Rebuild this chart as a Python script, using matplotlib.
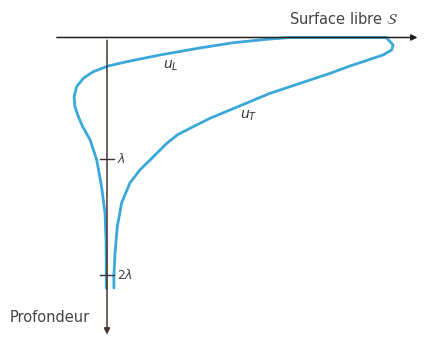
import numpy as np
import matplotlib.pyplot as plt

# profils des deplacements (u relatif, profondeur z en unites de lambda)
z_L = [0.0, 0.0, 0.015, 0.044, 0.088, 0.147, 0.203, 0.239, 0.287, 0.343, 0.413,
       0.497, 0.582, 0.666, 0.744, 0.861, 1.029, 1.254, 1.475, 1.702, 1.926, 2.105]
u_L = [0.976, 0.640, 0.559, 0.441, 0.325, 0.185, 0.070, 0.005, -0.048, -0.083, -0.106,
       -0.115, -0.112, -0.100, -0.086, -0.059, -0.036, -0.019, -0.007, -0.0035, -0.0025, -0.0025]

z_T = [0.0, 0.063, 0.105, 0.147, 0.203, 0.239, 0.301, 0.357, 0.413, 0.469, 0.539,
       0.609, 0.679, 0.763, 0.815, 0.889, 0.973, 1.057, 1.113, 1.223, 1.391, 1.590,
       1.811, 2.010, 2.105]
u_T = [0.976, 1.000, 0.995, 0.965, 0.895, 0.850, 0.780, 0.710, 0.640, 0.570, 0.500,
       0.430, 0.360, 0.290, 0.248, 0.209, 0.174, 0.139, 0.115, 0.080, 0.051, 0.036,
       0.028, 0.024, 0.024]

ticks_z = [1.02, 1.996]
ticks_lab = [r"$\lambda$", r"$2\lambda$"]

blue = "#3aa8d8"

fig = plt.figure(figsize=(4.28, 3.40), dpi=100)
ax = fig.add_axes([0, 0, 1, 1])
ax.set_xlim(-0.374, 1.122)
ax.set_ylim(2.542, -0.315)
ax.axis("off")

# axes avec fleches
ax.annotate("", xy=(1.095, 0), xytext=(-0.185, 0),
            arrowprops=dict(arrowstyle="-|>", color="#222222", lw=1.1, mutation_scale=9))
ax.annotate("", xy=(0, 2.52), xytext=(0, 0),
            arrowprops=dict(arrowstyle="-|>", color="#4a3530", lw=1.1, mutation_scale=9))

ax.plot(u_L, z_L, color=blue, lw=2, solid_joinstyle="round", solid_capstyle="round")
ax.plot(u_T, z_T, color=blue, lw=2, solid_joinstyle="round", solid_capstyle="round")

for z, lab in zip(ticks_z, ticks_lab):
    ax.plot([-0.025, 0.025], [z, z], color="#333333", lw=1)
    ax.text(0.035, z, lab, fontsize=9, color="#444444", va="center", ha="left")

ax.text(1.017, -0.155, r"Surface libre $\mathcal{S}$", fontsize=10.5, color="#444444",
        ha="right", va="center")
ax.text(0.195, 0.26, r"$u_L$", fontsize=10, color="#333333")
ax.text(0.465, 0.685, r"$u_T$", fontsize=10, color="#333333")
ax.text(-0.34, 2.35, "Profondeur", fontsize=10.5, color="#444444", va="center")

fig.savefig("out.png", dpi=100)
